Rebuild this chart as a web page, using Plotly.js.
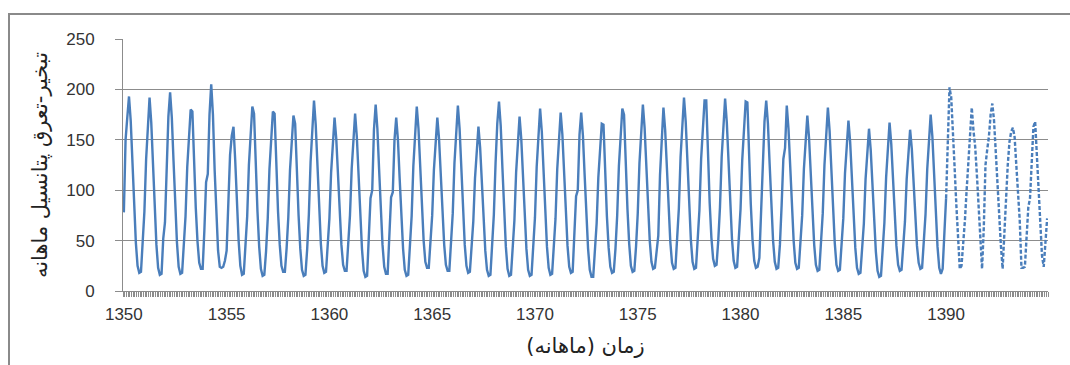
<!DOCTYPE html>
<html><head><meta charset="utf-8">
<script src="https://cdn.plot.ly/plotly-3.0.1.min.js"></script>
<style>
html,body{margin:0;padding:0;background:#fff;width:1070px;height:365px;overflow:hidden}
#chart{position:absolute;left:0;top:0;width:1070px;height:365px}
#frame{position:absolute;left:8px;top:13px;width:1100px;height:400px;border:2px solid #8a8a8a;pointer-events:none}
</style></head><body>
<div id="chart"></div><div id="frame"></div>
<script>
const startYear = 1350;
const tickYears = ['1350','1355','1360','1365','1370','1375','1380','1385','1390'];
const yTitle = 'تبخیر-تعرق پتانسیل ماهانه';
const xTitle = 'زمان (ماهانه)\u200F';

// monthly values, 1350/01 .. 1390/01 (observed, solid)
const observed = [
 78,150,172,193,169,126,85,48,25,18,19,44,
 79,131,169,192,167,125,83,46,23,16,17,52,
 68,134,173,197,172,129,85,48,24,17,18,41,
 74,123,159,180,178,120,82,49,28,22,22,60,
 108,116,175,205,175,120,75,40,24,23,24,30,
 40,90,135,154,163,130,88,50,25,16,17,42,
 74,125,161,183,176,119,79,44,22,15,16,39,
 72,121,157,178,176,118,79,46,25,19,19,42,
 73,120,154,174,166,114,75,42,21,15,16,41,
 76,128,166,189,165,124,83,47,25,18,19,41,
 72,118,152,172,151,114,78,46,26,20,20,43,
 75,121,156,176,153,114,76,42,20,14,15,50,
 92,100,160,185,161,121,81,46,24,17,17,50,
 93,98,150,172,150,112,75,42,21,15,16,40,
 74,124,161,183,161,122,84,50,29,23,23,45,
 75,120,153,172,151,114,78,46,26,20,20,45,
 77,127,163,184,161,121,81,46,25,18,19,40,
 69,112,144,163,142,107,71,40,21,15,16,41,
 76,127,166,188,164,122,81,44,22,15,16,39,
 70,118,152,173,151,113,75,42,21,15,16,40,
 73,123,159,181,158,118,79,44,23,16,17,40,
 72,121,156,177,155,117,78,45,24,18,19,50,
 94,100,155,177,154,115,76,42,21,14,14,37,
 67,113,146,166,165,110,74,43,24,18,19,42,
 75,124,160,181,175,119,81,47,25,19,20,44,
 77,127,163,185,162,123,84,50,29,22,23,42,
 55,115,158,182,160,121,83,49,28,22,23,48,
 82,133,170,192,168,127,87,51,29,22,23,47,
 80,131,167,189,189,127,87,53,32,25,26,50,
 83,133,169,191,167,127,87,52,30,23,24,48,
 81,130,167,188,187,125,86,51,30,23,24,33,
 75,130,168,189,166,126,85,50,29,22,23,46,
 85,131,142,184,161,122,84,50,28,22,23,45,
 75,121,154,174,152,115,79,46,26,20,21,44,
 77,125,161,182,159,120,82,48,26,20,21,42,
 72,117,150,169,148,111,75,43,23,17,18,39,
 67,111,142,161,140,105,70,39,20,14,15,37,
 68,113,147,167,146,111,76,45,26,20,21,41,
 69,111,142,160,141,108,74,45,28,22,23,45,
 76,121,155,175,153,115,77,44,23,17,22,58,
 92
];
// monthly values, 1390/01 .. 1394/12 (dashed)
const projected = [
 92,150,202,192,150,122,85,55,22,25,45,70,
 100,130,160,182,159,143,115,86,45,22,62,125,
 140,153,175,186,169,135,100,72,45,22,60,100,
 125,148,158,162,153,125,95,70,23,23,24,55,
 83,92,130,163,168,135,100,70,35,24,50,72
];
const projStart = 480; // month index of 1390/01

const xOf = i => startYear + (i + 0.5) / 12;
const blue = '#4a7ebb';
const grey = '#8c8c8c';

const traces = [
  {x: observed.map((v,i)=>xOf(i)), y: observed, type:'scatter', mode:'lines',
   line:{color:blue, width:2.4}, hoverinfo:'skip'},
  {x: projected.map((v,i)=>xOf(projStart+i)), y: projected, type:'scatter', mode:'lines',
   line:{color:blue, width:2.4, dash:'4px,2px'}, hoverinfo:'skip'}
];

const layout = {
  width:1070, height:365, showlegend:false,
  paper_bgcolor:'rgba(0,0,0,0)', plot_bgcolor:'#fff',
  margin:{l:123, r:22, t:39, b:74, pad:0},
  font:{family:'Liberation Sans, Arial, sans-serif', color:'#333'},
  xaxis:{
    range:[startYear, startYear+45], showgrid:false, zeroline:false,
    showline:true, linecolor:grey, linewidth:1,
    tickmode:'array', tickvals: tickYears.map(y=>Number(y)+1/24), ticktext: tickYears,
    ticks:'outside', ticklen:5, tickcolor:'rgba(0,0,0,0)', ticklabelstandoff:3,
    tickfont:{size:17, color:'#333', family:'Liberation Sans, Arial, sans-serif'},
    minor:{ticks:'outside', ticklen:5, tickwidth:1, tickcolor:grey, tick0:startYear, dtick:1/12, showgrid:false},
    title:{text:xTitle, standoff:14, font:{size:21, family:'DejaVu Sans, sans-serif', color:'#222'}}
  },
  yaxis:{
    range:[0,250], dtick:50, tick0:0, showgrid:true, gridcolor:grey, gridwidth:1,
    zeroline:false, showline:true, linecolor:grey, linewidth:1,
    ticks:'outside', ticklen:7, tickcolor:grey, ticklabelstandoff:17,
    tickfont:{size:17, color:'#333', family:'Liberation Sans, Arial, sans-serif'},
    title:{text:yTitle, standoff:12, font:{size:21, family:'DejaVu Sans, sans-serif', color:'#222'}}
  }
};
Plotly.newPlot('chart', traces, layout, {staticPlot:true, displayModeBar:false});
</script>
</body></html>
